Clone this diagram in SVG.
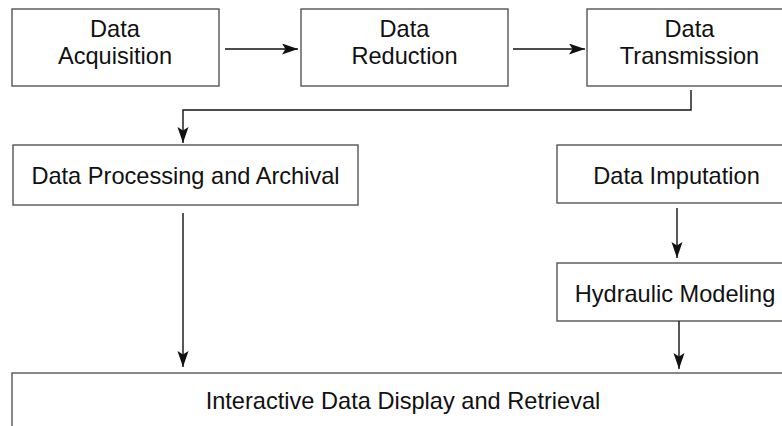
<svg xmlns="http://www.w3.org/2000/svg" width="782" height="426" viewBox="0 0 782 426">
  <style>
    .box { fill: #ffffff; stroke: #555555; stroke-width: 1.4; }
    .lbl { font-family: "Liberation Sans", Arial, sans-serif; font-size: 23.6px; fill: #111111; text-anchor: middle; }
    .conn { fill: none; stroke: #111111; stroke-width: 1.4; }
  </style>
  <defs>
    <marker id="arrow" markerUnits="userSpaceOnUse" markerWidth="17" markerHeight="12" refX="16" refY="5.5" orient="auto">
      <path d="M0,0 L16,5.5 L0,11 L3.5,5.5 z" fill="#111111"/>
    </marker>
  </defs>
  <rect width="782" height="426" fill="#ffffff"/>

  <g id="acquisition">
    <rect class="box" x="12" y="9" width="207" height="77"/>
    <text class="lbl" x="115" y="37">Data</text>
    <text class="lbl" x="115" y="64">Acquisition</text>
  </g>
  <g id="reduction">
    <rect class="box" x="301" y="9" width="207" height="77"/>
    <text class="lbl" x="404.5" y="37">Data</text>
    <text class="lbl" x="404.5" y="64">Reduction</text>
  </g>
  <g id="transmission">
    <rect class="box" x="587" y="9" width="205" height="77"/>
    <text class="lbl" x="689.5" y="37">Data</text>
    <text class="lbl" x="689.5" y="64">Transmission</text>
  </g>
  <g id="processing">
    <rect class="box" x="13" y="145" width="345" height="60"/>
    <text class="lbl" x="185.5" y="184">Data Processing and Archival</text>
  </g>
  <g id="imputation">
    <rect class="box" x="557" y="145" width="239" height="58"/>
    <text class="lbl" x="676.5" y="184">Data Imputation</text>
  </g>
  <g id="hydraulic">
    <rect class="box" x="557" y="263" width="236" height="58"/>
    <text class="lbl" x="675" y="302">Hydraulic Modeling</text>
  </g>
  <g id="display">
    <rect class="box" x="12" y="373" width="782" height="70"/>
    <text class="lbl" x="403" y="409">Interactive Data Display and Retrieval</text>
  </g>

  <g id="connectors">
    <line class="conn" x1="225" y1="49" x2="298" y2="49" marker-end="url(#arrow)"/>
    <line class="conn" x1="513" y1="49" x2="585" y2="49" marker-end="url(#arrow)"/>
    <polyline class="conn" points="691,90 691,110 183,110 183,143" marker-end="url(#arrow)"/>
    <line class="conn" x1="183" y1="213" x2="183" y2="367" marker-end="url(#arrow)"/>
    <line class="conn" x1="677" y1="208" x2="677" y2="258" marker-end="url(#arrow)"/>
    <line class="conn" x1="679" y1="321" x2="679" y2="369" marker-end="url(#arrow)"/>
  </g>
</svg>
